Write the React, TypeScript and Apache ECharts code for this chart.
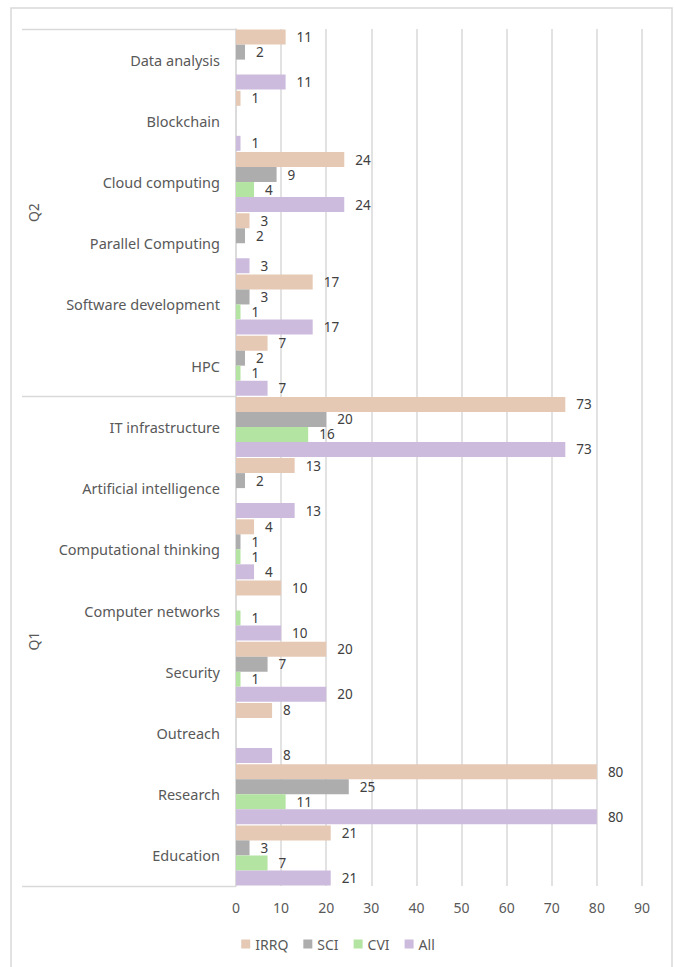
import React, { useEffect, useRef } from 'react';
import * as echarts from 'echarts';

const categories = [
  'Data analysis',
  'Blockchain',
  'Cloud computing',
  'Parallel Computing',
  'Software development',
  'HPC',
  'IT infrastructure',
  'Artificial intelligence',
  'Computational thinking',
  'Computer networks',
  'Security',
  'Outreach',
  'Research',
  'Education',
];
const groupNames = ['Q2', 'Q1'];
const groupSizes = [6, 8];

const seriesNames = ['IRRQ', 'SCI', 'CVI', 'All'];
const irrq = [11, 1, 24, 3, 17, 7, 73, 13, 4, 10, 20, 8, 80, 21];
const sci = [2, 0, 9, 2, 3, 2, 20, 2, 1, 0, 7, 0, 25, 3];
const cvi = [0, 0, 4, 0, 1, 1, 16, 0, 1, 1, 1, 0, 11, 7];
const all = [11, 1, 24, 3, 17, 7, 73, 13, 4, 10, 20, 8, 80, 21];
const xTicks = { min: 0, max: 90, interval: 10 };

const colors = ['#E6C9B4', '#ADADAD', '#B4E4A1', '#CDBBDD'];

export default function App() {
  const ref = useRef<HTMLDivElement>(null);
  useEffect(() => {
    const chart = echarts.init(ref.current!, null, { renderer: 'svg' });
    const H = 967;
    const gridLeft = 236;
    const gridRight = 34;
    const gridTop = 29;
    const gridBottom = 81;
    const plotH = H - gridTop - gridBottom;
    const band = plotH / categories.length;
    const font = 'Noto Sans';

    const graphics: any[] = [
      {
        type: 'rect',
        shape: { x: 11, y: 8, width: 661, height: 970 },
        style: { fill: 'none', stroke: '#D9D9D9', lineWidth: 1.5 },
        silent: true,
      },
    ];
    let start = 0;
    const boundaries = [0];
    groupSizes.forEach((n) => {
      start += n;
      boundaries.push(start);
    });
    boundaries.forEach((b) => {
      const y = Math.round(gridTop + b * band) + 0.5;
      graphics.push({
        type: 'line',
        shape: { x1: 22, y1: y, x2: gridLeft, y2: y },
        style: { stroke: '#D9D9D9', lineWidth: 1.5 },
        silent: true,
      });
    });
    groupNames.forEach((g, i) => {
      const yc = gridTop + ((boundaries[i] + boundaries[i + 1]) / 2) * band;
      graphics.push({
        type: 'text',
        x: 33,
        y: yc,
        rotation: Math.PI / 2,
        style: {
          text: g,
          fill: '#595959',
          font: `14px "${font}"`,
          align: 'center',
          verticalAlign: 'middle',
        },
        silent: true,
      });
    });

    const datasets = [irrq, sci, cvi, all];
    chart.setOption({
      animation: false,
      textStyle: { fontFamily: font },
      grid: { left: gridLeft, right: gridRight, top: gridTop, bottom: gridBottom, containLabel: false },
      legend: {
        data: seriesNames,
        bottom: 11,
        left: 'center',
        itemWidth: 9,
        itemHeight: 9,
        itemGap: 15,
        icon: 'rect',
        textStyle: { color: '#595959', fontSize: 14, fontFamily: font },
      },
      xAxis: {
        type: 'value',
        min: xTicks.min,
        max: xTicks.max,
        interval: xTicks.interval,
        axisLine: { show: false },
        axisTick: { show: false },
        axisLabel: { color: '#595959', fontSize: 14, margin: 14, fontFamily: font },
        splitLine: { lineStyle: { color: '#D9D9D9', width: 1.5 } },
      },
      yAxis: {
        type: 'category',
        data: categories,
        inverse: true,
        axisLine: { show: true, lineStyle: { color: '#D9D9D9', width: 1.5 } },
        axisTick: { show: false },
        axisLabel: { color: '#595959', fontSize: 14.5, margin: 16, fontFamily: font },
      },
      series: seriesNames.map((name, i) => ({
        name,
        type: 'bar',
        data: datasets[i],
        barGap: '0%',
        barCategoryGap: '2%',
        itemStyle: { color: colors[i] },
        label: {
          show: true,
          position: 'right',
          distance: 11,
          color: '#404040',
          fontSize: 13.5,
          lineHeight: 12,
          fontFamily: font,
          formatter: (p: any) => (p.value === 0 ? '' : String(p.value)),
        },
      })),
      graphic: graphics,
    });
    return () => chart.dispose();
  }, []);
  return (
    <div
      ref={ref}
      style={{ position: 'fixed', left: 0, top: 0, width: 676, height: 967, background: '#fff' }}
    />
  );
}
